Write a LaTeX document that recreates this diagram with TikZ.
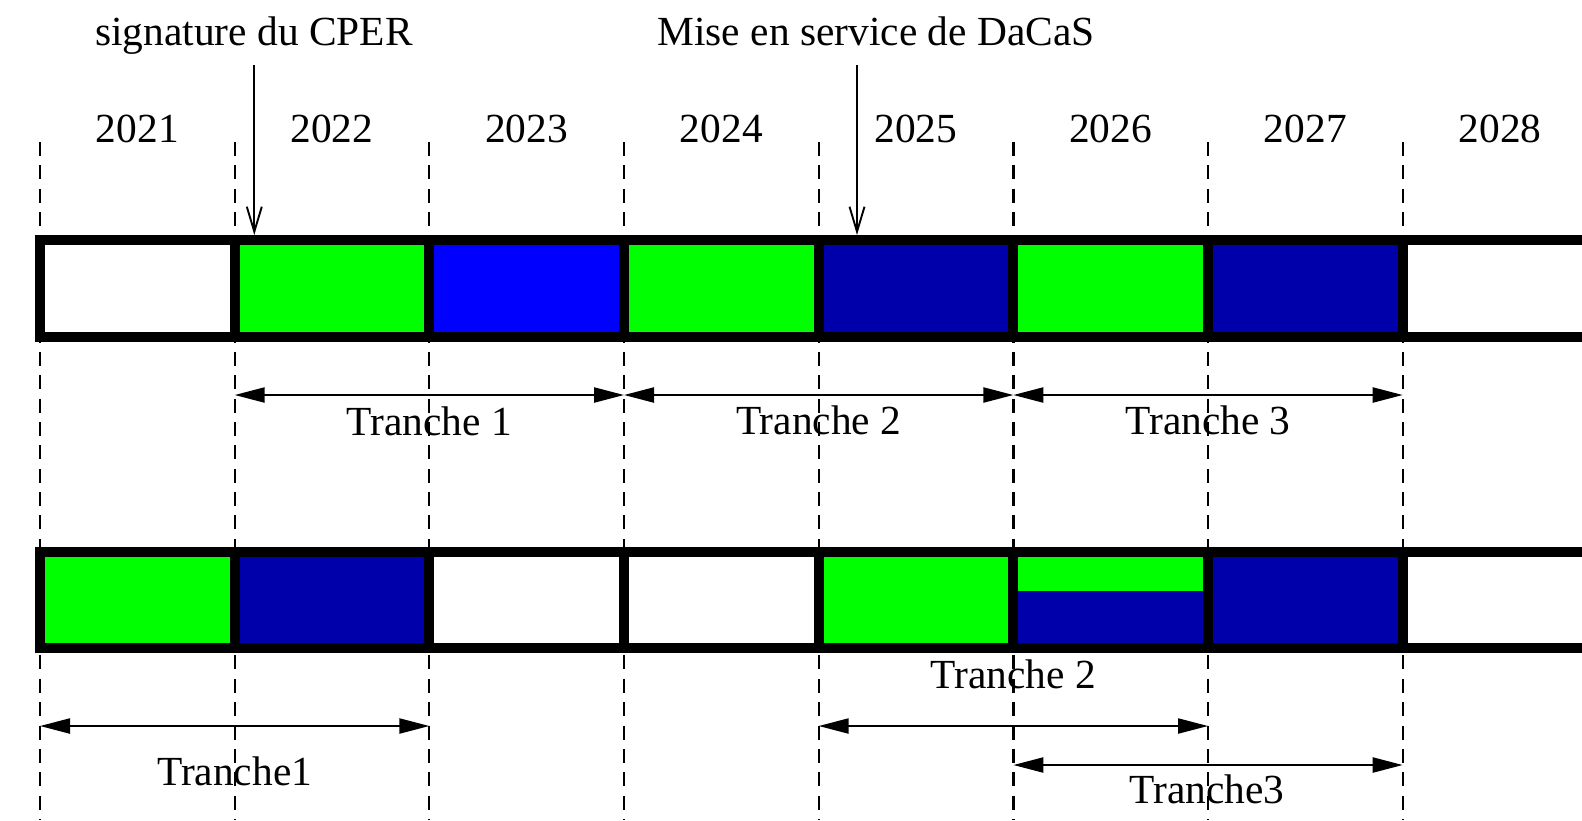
\documentclass[tikz,border=0pt]{standalone}
\usepackage{fontspec}
\setmainfont{Liberation Serif}
\usetikzlibrary{arrows.meta}
\definecolor{fgreen}{RGB}{0,255,0}
\definecolor{fblue}{RGB}{0,0,255}
\definecolor{dblue}{RGB}{0,0,170}
\begin{document}
\begin{tikzpicture}[x=0.5pt,y=-0.5pt,
  every node/.style={font=\fontsize{20.7pt}{24pt}\selectfont, inner sep=0pt, anchor=base},
  grid/.style={dash pattern=on 7pt off 4.67pt, line width=1.15pt},
  barline/.style={line width=5pt},
  span/.style={{Triangle[length=15pt,width=7.5pt]}-{Triangle[length=15pt,width=7.5pt]}, line width=1.1pt},
  marker/.style={-{Straight Barb[length=12.5pt,width=7.5pt]}, line width=0.95pt}]
\useasboundingbox (0,0) rectangle (1582,820);
\clip (0,0) rectangle (1582,820);

% year boundaries
\foreach \k in {0,...,7} \coordinate (b\k) at ({40+194.67*\k},0);
\coordinate (bEnd) at (1650,0);
% rows of the span arrows
\coordinate (rowA) at (0,395);
\coordinate (rowB) at (0,726);
\coordinate (rowC) at (0,765);

% dashed year separators
\foreach \k in {0,...,7} \draw[grid] (b\k |- 0,142) -- (b\k |- 0,820);

% year labels
\foreach \y [count=\k from 0] in {2021,2022,2023,2024,2025,2026,2027,2028}
  \node (y\y) at ({137.3+194.67*\k},142.5) {\y};

% first bar: cell colours
\foreach \k/\c in {0/white,1/fgreen,2/fblue,3/fgreen,4/dblue,5/fgreen,6/dblue}{
  \pgfmathtruncatemacro{\n}{\k+1}
  \fill[\c] (b\k |- 0,240) rectangle (b\n |- 0,336.7);
}
\fill[white] (b7 |- 0,240) rectangle (bEnd |- 0,336.7);
\draw[barline] (b0 |- 0,240) rectangle (bEnd |- 0,336.7);
\foreach \k in {1,...,7} \draw[barline] (b\k |- 0,240) -- (b\k |- 0,336.7);

% second bar: cell colours
\foreach \k/\c in {0/fgreen,1/dblue,2/white,3/white,4/fgreen,6/dblue}{
  \pgfmathtruncatemacro{\n}{\k+1}
  \fill[\c] (b\k |- 0,551.7) rectangle (b\n |- 0,648.3);
}
\fill[fgreen] (b5 |- 0,551.7) rectangle (b6 |- 0,590.7);
\fill[dblue] (b5 |- 0,590.7) rectangle (b6 |- 0,648.3);
\fill[white] (b7 |- 0,551.7) rectangle (bEnd |- 0,648.3);
\draw[barline] (b0 |- 0,551.7) rectangle (bEnd |- 0,648.3);
\foreach \k in {1,...,7} \draw[barline] (b\k |- 0,551.7) -- (b\k |- 0,648.3);

% events
\node (sig) at (254,45) {signature du CPER};
\node (mise) at (876,45) {Mise en service de DaCaS};
\coordinate (sigFrom) at (254.3,65);
\coordinate (sigTo) at (254.3,235);
\coordinate (miseFrom) at (857,65);
\coordinate (miseTo) at (857,235);
\draw[marker] (sigFrom) -- (sigTo);
\draw[marker] (miseFrom) -- (miseTo);

% spans of the first plan
\draw[span] (b1 |- rowA) -- (b3 |- rowA);
\draw[span] (b3 |- rowA) -- (b5 |- rowA);
\draw[span] (b5 |- rowA) -- (b7 |- rowA);
\node (tA1) at (429.3,435) {Tranche 1};
\node (tA2) at (818.6,434) {Tranche 2};
\node (tA3) at (1208,434) {Tranche 3};

% spans of the second plan
\draw[span] (b0 |- rowB) -- (b2 |- rowB);
\draw[span] (b4 |- rowB) -- (b6 |- rowB);
\draw[span] (b5 |- rowC) -- (b7 |- rowC);
\node (tB1) at (234.7,785) {Tranche1};
\node (tB2) at (1013.3,688) {Tranche 2};
\node (tB3) at (1207,803) {Tranche3};
\end{tikzpicture}
\end{document}
